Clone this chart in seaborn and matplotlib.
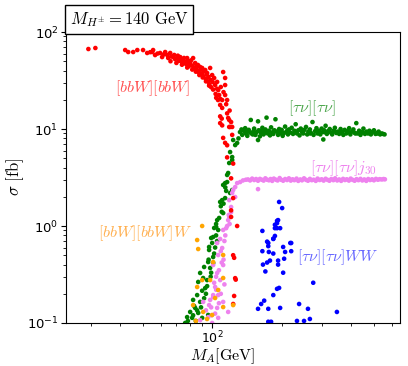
import pandas as pd
import seaborn as sns
import matplotlib.pyplot as plt

plt.rcParams['mathtext.fontset'] = 'cm'

# [bbW][bbW]  (M_A in GeV, sigma in fb)
red_m = [29.1, 31.2, 42.0, 43.3, 45.5, 47.4, 50.2, 52.3, 53.9, 55.0, 55.5, 56.6, 58, 59.5, 60.7, 61.5,
         62.6, 63.9, 64.5, 65.8, 66.5, 67.8, 68.5, 69.1, 70.5, 71, 71.8, 72.7, 73.5, 74.2, 74.9, 75.5,
         76.4, 77.2, 77.9, 78.6, 79.3, 80.3, 81, 81.9, 82.7, 83.5, 84.4, 85.2, 86.1, 86.8, 87.5, 88.7,
         89.6, 90.5, 90.5, 91.4, 92.3, 93.3, 93.8, 94.5, 95.1, 96, 96.5, 97.2, 98.0, 98.5, 99, 100,
         100.5, 101, 102, 103, 103.5, 104.1, 105, 105.1, 106, 106.2, 107.2, 108.3, 108.3, 109, 110.5,
         110.5, 111.6, 112, 113.8, 113.8, 113.8, 115, 116.1, 116.1, 117.3, 119, 118.5, 120.8, 122.1,
         119.6, 108.3, 110, 108.3, 110.5, 118.5, 122.1, 111.6, 113.8, 116.1, 116.1, 123.3, 120.8,
         123.3, 120.8, 120.8, 128.3, 123.3, 124.5, 125.8, 126.5, 124.5, 123.3,
         66, 70, 74, 78, 82, 85, 88, 91, 94, 97]
red_s = [66.8, 68.4, 65.2, 62.2, 62.2, 65.2, 65.2, 60.8, 62.0, 62.2, 65.2, 57.9, 60, 60.8, 55.2, 58.5,
         62.2, 57.9, 54, 60.8, 56, 55.2, 58, 52.5, 53.9, 57, 50.5, 55.2, 52, 48, 51.5, 54,
         49, 46.5, 53.9, 50, 44.5, 47.9, 51, 45, 53.9, 42, 47.9, 44, 40.6, 45.7, 38.5, 43.6,
         41, 37.5, 42.6, 35, 39.5, 40.6, 33, 36.5, 37.8, 31, 34.5, 29, 42.6, 32, 27, 36.0,
         30.5, 25.5, 33.6, 28.4, 23, 21, 26, 30.6, 19.9, 25.2, 22.4, 17.7, 20.5, 27.1, 19.9,
         16.5, 38.7, 24, 33.6, 22.4, 28.4, 18, 19.9, 14.5, 13.0, 15.5, 12.4, 11.8, 10.5,
         10.5, 13.5, 12.8, 11.5, 10.9, 10.5, 8.7, 8.1, 7.2, 6.8, 5.1, 4.4, 3.1,
         1.94, 1.45, 1.24, 1.0, 0.50, 0.47, 0.29, 0.28, 0.19, 0.157,
         50, 48, 46, 43, 41, 39, 36, 34, 31, 28]

# [tau nu][tau nu]
green_m = [76.4, 77.9, 80.3, 81.9, 82.7, 84.4, 86.1, 87.0, 88.7, 90.5, 87.0, 88.7, 91.4, 92.3, 93.3,
           95.1, 96.1, 98.0, 97.0, 96.1, 101, 101, 100, 101, 97.0, 99.0, 105.1, 102, 106.2, 104.1,
           107.2, 110.5, 108.3, 111.6, 113.8, 116.1, 113.8, 111.6, 119.6, 122.1, 116.1, 117.3, 118.5,
           122.1, 122.1, 119.6, 123.3, 125.8, 128.3, 130, 78.5, 82.7, 85, 83.5, 86.1, 89.5, 92.3, 94,
           90.5, 95.1, 98.5, 99, 96.5, 102, 103, 104, 105, 104, 109, 110, 112, 115, 114,
           132, 135, 137, 139, 140, 142, 144, 146, 147, 149, 151, 152, 154, 156, 158, 158, 159, 161,
           163, 165, 167, 168, 170, 172, 174, 176, 178, 180, 182, 184, 186, 188, 190, 193, 195, 197,
           200, 202, 205, 207, 210, 213, 215, 218, 221, 224, 227, 230, 233, 236, 239, 242, 245, 248,
           251, 255, 258, 261, 265, 268, 272, 275, 279, 283, 286, 290, 294, 298, 302, 303, 306, 310,
           314, 318, 323, 327, 331, 336, 340, 345, 350, 355, 360, 365, 370, 375, 381, 386, 392, 397,
           403, 409, 415, 421, 427, 433, 439, 446, 452, 459, 466, 473, 480, 487, 494, 502, 510, 518,
           526, 534, 542, 550, 558,
           134, 141, 150, 162, 171, 185, 199, 212, 228, 247, 266, 289, 312, 338, 362, 389, 418, 449, 484, 521]
green_s = [0.10, 0.115, 0.13, 0.113, 0.173, 0.143, 0.194, 0.127, 0.165, 0.113, 0.265, 0.328, 0.291, 0.378,
           0.229, 0.277, 0.121, 0.369, 0.566, 0.425, 0.415, 0.479, 0.668, 0.77, 0.608, 0.752, 1.15, 0.954,
           0.91, 0.977, 1.21, 1.85, 1.77, 1.36, 1.94, 2.84, 2.77, 2.65, 2.19, 2.35, 3.36, 3.52, 4.46,
           4.79, 5.14, 5.79, 7.70, 6.83, 7.18, 8.0, 0.105, 0.12, 0.105, 0.15, 0.135, 0.145, 0.18, 0.2,
           0.215, 0.24, 0.3, 0.33, 0.45, 0.52, 0.6, 0.8, 0.7, 1.05, 1.6, 1.4, 1.7, 2.3, 2.5,
           9.3, 8.7, 9.6, 10.2, 9.0, 8.5, 9.8, 9.2, 12.4, 8.9, 9.5, 10.1, 8.7, 9.3, 12.0, 7.7, 9.7, 8.4,
           9.1, 10.3, 8.8, 9.5, 9.9, 13.1, 9.0, 9.6, 8.6, 10.4, 9.2, 8.9, 9.7, 12.6, 9.4, 8.7, 10.0, 9.3,
           9.8, 8.5, 9.1, 10.6, 9.4, 8.8, 9.9, 9.2, 10.3, 8.9, 9.6, 11.2, 9.0, 9.7, 8.6, 10.1, 9.3, 9.0,
           9.8, 10.5, 8.8, 9.4, 9.9, 9.1, 11.8, 8.7, 9.5, 10.2, 9.0, 9.6, 8.8, 10.1, 9.3, 7.8, 9.7, 10.8,
           8.9, 9.5, 10.0, 9.2, 8.8, 9.6, 10.3, 9.1, 9.4, 8.9, 10.0, 9.3, 8.7, 9.8, 9.0, 9.5, 10.2, 8.8,
           9.4, 9.9, 9.1, 11.5, 9.0, 9.6, 8.7, 9.3, 10.1, 8.9, 9.4, 9.0, 9.6, 8.8, 9.3, 9.7, 8.9, 9.1,
           9.4, 8.8, 9.0, 8.9, 8.8,
           9.9, 9.4, 8.8, 9.6, 9.2, 9.5, 9.0, 9.7, 9.3, 9.6, 9.0, 9.4, 9.1, 9.5, 9.2, 9.3, 9.0, 9.2, 9.1, 9.0]

# [tau nu][tau nu] j30
violet_m = [88.7, 91.4, 96.1, 97.0, 98.0, 101, 100, 99.5, 104.1, 105.1, 106.2, 101, 103, 108.3, 106.2,
            105.1, 101, 111.6, 106.2, 110.5, 105.1, 108.3, 111.6, 117.3, 111.6, 116.1, 117.3, 118.5,
            120.8, 118.5, 120.8, 122.1, 123.3, 125.8, 125.8, 128.3, 132.2, 136, 140, 94, 99, 103, 107,
            109, 113, 102, 104, 107, 110, 112, 109, 113, 114, 115, 119, 118,
            143, 146, 149, 152, 155, 158, 158, 161, 164, 167, 170, 173, 176, 179, 182, 185, 189, 192,
            196, 199, 203, 207, 211, 215, 219, 223, 227, 232, 236, 241, 245, 250, 255, 260, 265, 270,
            275, 281, 286, 292, 298, 304, 310, 316, 322, 328, 335, 341, 348, 355, 362, 369, 376, 383,
            391, 398, 406, 414, 422, 430, 439, 447, 456, 465, 474, 483, 493, 502, 512, 522, 532, 543,
            553, 560]
violet_s = [0.107, 0.165, 0.115, 0.153, 0.173, 0.194, 0.1, 0.12, 0.22, 0.143, 0.113, 0.185, 0.235, 0.277,
            0.194, 0.328, 0.396, 0.396, 0.502, 0.593, 0.668, 0.735, 0.165, 0.13, 0.91, 1.0, 1.15, 1.24,
            1.57, 1.85, 1.39, 2.19, 2.35, 1.99, 2.52, 2.77, 2.84, 2.95, 3.0, 0.135, 0.145, 0.125, 0.16,
            0.2, 0.25, 0.26, 0.3, 0.35, 0.42, 0.45, 0.55, 0.7, 0.8, 0.95, 1.05, 1.3,
            3.02, 2.95, 3.08, 2.98, 3.05, 2.40, 2.93, 3.06, 3.0, 2.94, 3.1, 3.0, 2.96, 3.05, 2.92, 3.08,
            3.0, 2.95, 3.12, 3.0, 2.93, 3.05, 2.98, 3.1, 2.94, 3.03, 2.97, 3.08, 2.92, 3.02, 2.96, 3.1,
            2.99, 2.93, 3.06, 2.97, 3.0, 2.92, 3.08, 2.98, 3.03, 2.94, 3.07, 2.99, 2.93, 3.05, 2.97, 3.1,
            2.95, 3.02, 2.92, 3.06, 2.98, 3.03, 2.94, 3.08, 2.99, 2.93, 3.04, 2.97, 3.06, 2.95, 3.02,
            2.92, 3.05, 2.98, 3.03, 2.96, 3.06, 3.0, 3.04, 3.02, 3.05, 3.03]

# [bbW][bbW]W
orange_m = [90.5, 86.1, 87.0, 111.6, 101, 90.5, 111.6, 98.0, 86.1, 106.2, 103, 82.7, 123.3, 111.6,
            91.4, 100, 95, 85]
orange_s = [1.0, 0.717, 0.579, 0.502, 0.425, 0.277, 0.291, 0.277, 0.235, 0.219, 0.181, 0.153, 0.153,
            0.146, 0.13, 0.121, 0.11, 0.105]

# [tau nu][tau nu]WW
blue_m = [195, 201, 191, 187, 165, 184, 175, 203, 218, 191, 193, 191, 197, 187, 187, 184, 173, 175,
          220, 220, 165, 176, 184, 207, 193, 205, 178, 173, 166, 170, 193, 203, 274, 195, 191, 184,
          168, 163, 158, 175, 197, 238, 260, 347, 175, 180, 233, 250, 265]
blue_s = [1.77, 1.53, 1.13, 1.03, 0.89, 0.74, 0.668, 0.608, 0.668, 0.95, 1.15, 1.07, 0.95, 0.95, 0.79,
          0.735, 0.69, 0.62, 0.668, 0.55, 0.55, 0.54, 0.52, 0.54, 0.44, 0.46, 0.44, 0.42, 0.40, 0.34,
          0.40, 0.33, 0.26, 0.23, 0.225, 0.194, 0.17, 0.157, 0.14, 0.14, 0.143, 0.157, 0.14, 0.13,
          0.103, 0.103, 0.105, 0.105, 0.11]

channels = ['tautau', 'tautauj', 'bbbb', 'bbbbW', 'tautauWW']
colors = ['green', 'violet', 'red', 'orange', 'blue']

df = pd.concat([
    pd.DataFrame({'M': green_m, 'sigma': green_s, 'ch': 'tautau'}),
    pd.DataFrame({'M': violet_m, 'sigma': violet_s, 'ch': 'tautauj'}),
    pd.DataFrame({'M': red_m, 'sigma': red_s, 'ch': 'bbbb'}),
    pd.DataFrame({'M': orange_m, 'sigma': orange_s, 'ch': 'bbbbW'}),
    pd.DataFrame({'M': blue_m, 'sigma': blue_s, 'ch': 'tautauWW'}),
], ignore_index=True)

fig = plt.figure(figsize=(4.08, 3.66), dpi=100)
ax = fig.add_axes([0.162, 0.1175, 0.818, 0.795])
sns.scatterplot(data=df, x='M', y='sigma', hue='ch', hue_order=channels,
                palette=dict(zip(channels, colors)), s=11, linewidth=0, legend=False, ax=ax)
ax.set_xscale('log')
ax.set_yscale('log')
ax.set_xlim(23.3, 650)
ax.set_ylim(0.1, 100)
ax.tick_params(axis='both', which='major', labelsize=9.5, pad=2)
ax.tick_params(axis='x', which='major', labelsize=9, pad=1)
ax.set_xlabel(r'$M_A[\mathrm{GeV}]$', fontsize=11.5)
ax.set_ylabel(r'$\sigma\ [\mathrm{fb}]$', fontsize=12)
ax.xaxis.set_label_coords(0.47, -0.079)
ax.yaxis.set_label_coords(-0.12, 0.5)

ax.text(55.5, 26.5, r'$[bbW][bbW]$', color='red', alpha=0.7, fontsize=11.5, ha='center', va='center')
ax.text(271, 16.5, r'$[\tau\nu][\tau\nu]$', color='green', alpha=0.7, fontsize=11.5, ha='center', va='center')
ax.text(266, 3.96, r'$[\tau\nu][\tau\nu]j_{30}$', color='violet', fontsize=11.5, ha='left', va='center')
ax.text(32.1, 0.85, r'$[bbW][bbW]W$', color='darkorange', alpha=0.7, fontsize=11.5, ha='left', va='center')
ax.text(233, 0.48, r'$[\tau\nu][\tau\nu]WW$', color='blue', alpha=0.6, fontsize=11.5, ha='left', va='center')

ax.annotate(r'$M_{H^{\pm}} = 140\ \mathrm{GeV}$', xy=(0, 1), xycoords='axes fraction',
            xytext=(2.5, 2.5), textcoords='offset points', fontsize=12, ha='left', va='bottom',
            bbox=dict(boxstyle='square,pad=0.3', fc='white', ec='black'))

fig.savefig('out.png', dpi=100)
